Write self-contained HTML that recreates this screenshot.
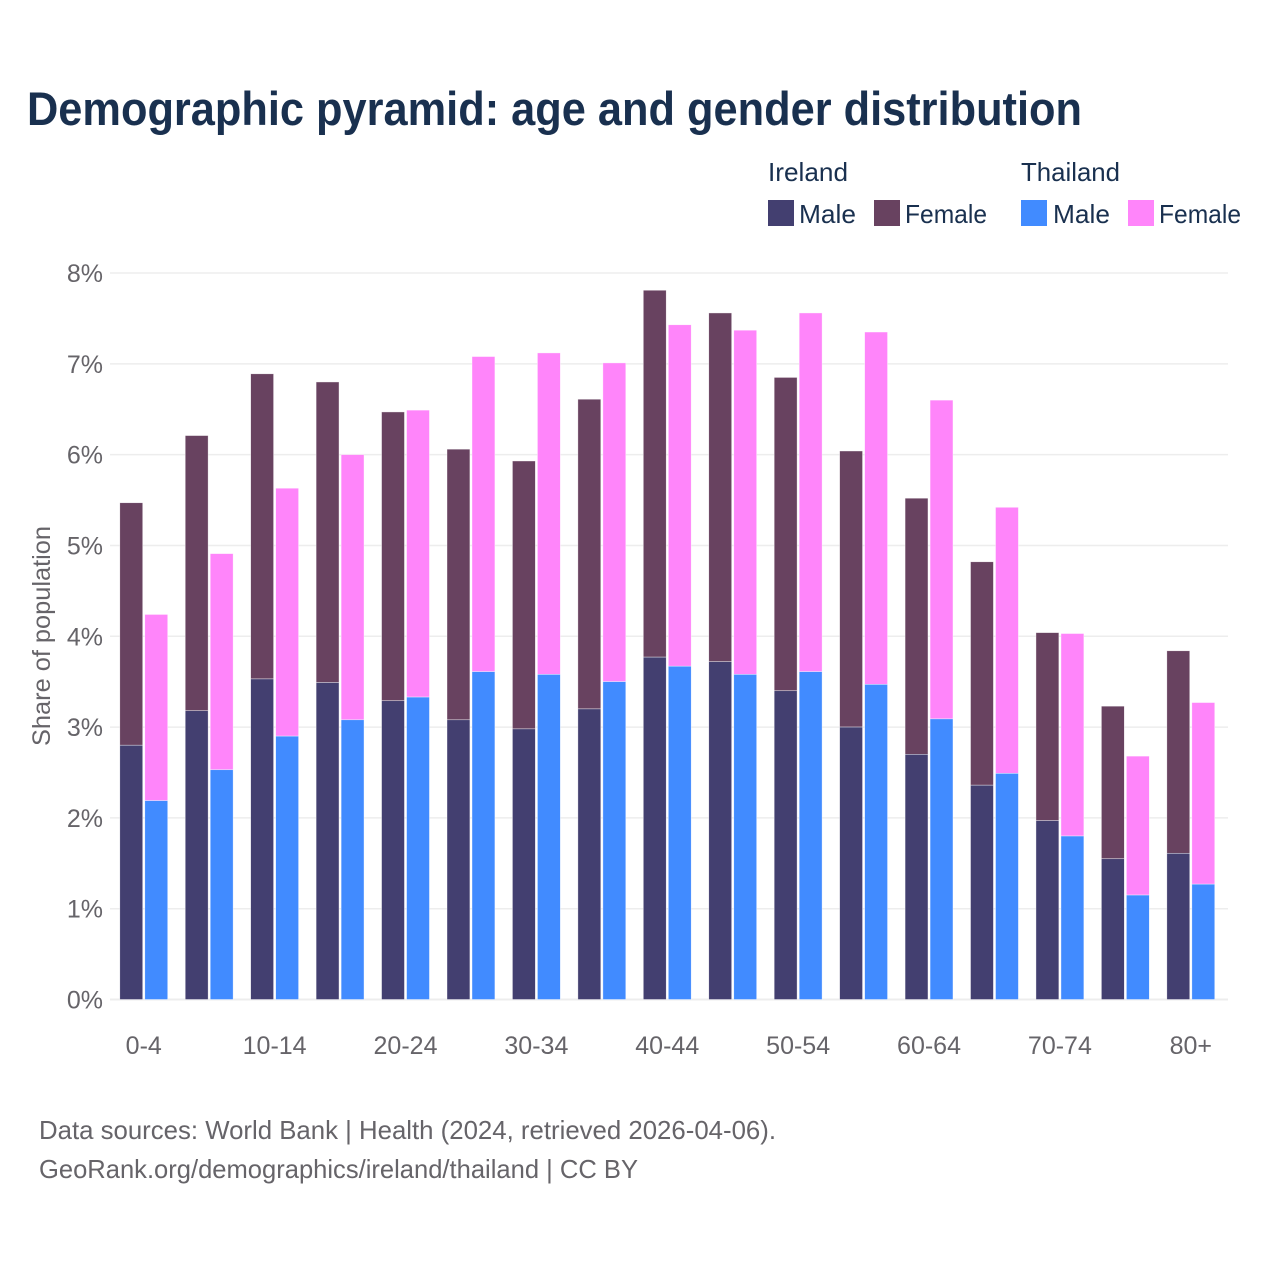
<!DOCTYPE html>
<html lang="en">
<head>
<meta charset="utf-8">
<title>Demographic pyramid</title>
<style>
html,body{margin:0;padding:0;background:#fff;}
svg{display:block;font-family:"Liberation Sans",sans-serif;}
</style>
</head>
<body>
<svg id="chart" xmlns="http://www.w3.org/2000/svg" width="1280" height="1280" viewBox="0 0 1280 1280">
  <rect x="0" y="0" width="1280" height="1280" fill="#ffffff"/>
  <text x="27" y="125" font-size="47" font-weight="700" fill="#19304f" textLength="1055" lengthAdjust="spacingAndGlyphs">Demographic pyramid: age and gender distribution</text>

  <g font-size="26" fill="#19304f">
    <text x="768" y="181" textLength="80" lengthAdjust="spacingAndGlyphs">Ireland</text>
    <text x="1021" y="181" textLength="99" lengthAdjust="spacingAndGlyphs">Thailand</text>
    <rect x="768" y="200" width="26" height="26" fill="#433f70"/>
    <text x="799" y="223" textLength="57" lengthAdjust="spacingAndGlyphs">Male</text>
    <rect x="874" y="200" width="26" height="26" fill="#684260"/>
    <text x="905" y="223" textLength="82" lengthAdjust="spacingAndGlyphs">Female</text>
    <rect x="1021" y="200" width="26" height="26" fill="#418bff"/>
    <text x="1053" y="223" textLength="57" lengthAdjust="spacingAndGlyphs">Male</text>
    <rect x="1128" y="200" width="26" height="26" fill="#ff85fa"/>
    <text x="1159" y="223" textLength="82" lengthAdjust="spacingAndGlyphs">Female</text>
  </g>

  <g id="grid"></g>
  <g id="bars"></g>
  <g id="yticks"></g>
  <g id="xticks"></g>

  <text transform="translate(50,636) rotate(-90)" text-anchor="middle" font-size="25" fill="#666469" textLength="220" lengthAdjust="spacingAndGlyphs">Share of population</text>

  <text x="39" y="1139" font-size="26" fill="#666469" textLength="737" lengthAdjust="spacingAndGlyphs">Data sources: World Bank | Health (2024, retrieved 2026-04-06).</text>
  <text x="39" y="1178" font-size="26" fill="#666469" textLength="599" lengthAdjust="spacingAndGlyphs">GeoRank.org/demographics/ireland/thailand | CC BY</text>
</svg>
<script>
const categories = ["0-4","5-9","10-14","15-19","20-24","25-29","30-34","35-39","40-44","45-49","50-54","55-59","60-64","65-69","70-74","75-79","80+"];
const irelandMale = [2.80,3.18,3.53,3.49,3.29,3.08,2.98,3.20,3.77,3.72,3.40,3.00,2.70,2.36,1.97,1.55,1.61];
const irelandFemale = [2.67,3.03,3.36,3.31,3.18,2.98,2.95,3.41,4.04,3.84,3.45,3.04,2.82,2.46,2.07,1.68,2.23];
const thailandMale = [2.19,2.53,2.90,3.08,3.33,3.61,3.58,3.50,3.67,3.58,3.61,3.47,3.09,2.49,1.80,1.15,1.27];
const thailandFemale = [2.05,2.38,2.73,2.92,3.16,3.47,3.54,3.51,3.76,3.79,3.95,3.88,3.51,2.93,2.23,1.53,2.00];
const yTickValues = [0,1,2,3,4,5,6,7,8];
const yTickLabels = ["0%","1%","2%","3%","4%","5%","6%","7%","8%"];
const xTickLabels = ["0-4","10-14","20-24","30-34","40-44","50-54","60-64","70-74","80+"];

const NS = "http://www.w3.org/2000/svg";
const plot = {left:110, right:1228, top:273, bottom:999.5, yMax:8};
const groupStart = 119.8, groupStep = 65.44, barOffset = 25, barWidth = 22.9;

function yScale(v){
  return plot.bottom - (v / plot.yMax) * (plot.bottom - plot.top);
}
function xScale(i){
  return groupStart + groupStep * i;
}
function make(tag, attrs){
  const el = document.createElementNS(NS, tag);
  for (const k in attrs) el.setAttribute(k, attrs[k]);
  return el;
}

const grid = document.getElementById("grid");
const yticks = document.getElementById("yticks");
yTickValues.forEach(function(v, i){
  const line = make("line", {x1:plot.left, x2:plot.right, y1:yScale(v), y2:yScale(v), stroke:"#ededed", "stroke-width": v === 0 ? 2 : 1.5});
  
  
  grid.appendChild(line);
  const label = make("text", {x:103, y:yScale(v) + 9, "text-anchor":"end", "font-size":25, fill:"#666469"});
  
  
  label.textContent = yTickLabels[i];
  yticks.appendChild(label);
});

const barsGroup = document.getElementById("bars");
function drawStack(i, offset, lowerValue, upperValue, lowerColor, upperColor, lowerName, upperName){
  const x = xScale(i) + offset;
  const upper = make("rect", {x:x, y:yScale(lowerValue + upperValue), width:barWidth, height:yScale(lowerValue) - yScale(lowerValue + upperValue), fill:upperColor, stroke:"#ffffff", "stroke-width":0.6, "stroke-opacity":0.65});
  
  
  barsGroup.appendChild(upper);
  const lower = make("rect", {x:x, y:yScale(lowerValue), width:barWidth, height:yScale(0) - yScale(lowerValue), fill:lowerColor, stroke:"#ffffff", "stroke-width":0.6, "stroke-opacity":0.65});
  
  
  barsGroup.appendChild(lower);
}
categories.forEach(function(c, i){
  drawStack(i, 0, irelandMale[i], irelandFemale[i], "#433f70", "#684260", "bar-ireland-male", "bar-ireland-female");
  drawStack(i, barOffset, thailandMale[i], thailandFemale[i], "#418bff", "#ff85fa", "bar-thailand-male", "bar-thailand-female");
});

const xticks = document.getElementById("xticks");
xTickLabels.forEach(function(t){
  const i = categories.indexOf(t);
  const label = make("text", {x:xScale(i) + (barOffset + barWidth) / 2, y:1054, "text-anchor":"middle", "font-size":25, fill:"#666469"});
  
  
  label.textContent = t;
  xticks.appendChild(label);
});
</script>
</body>
</html>
